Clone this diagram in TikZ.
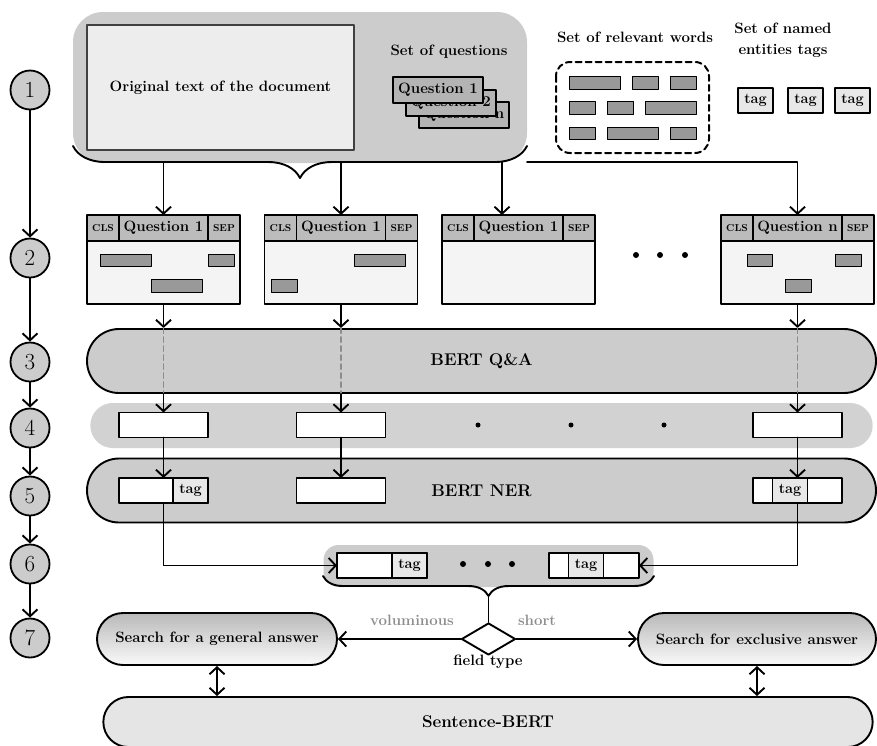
\documentclass[tikz,border=0pt]{standalone}
\usepackage{tikz}
\usetikzlibrary{arrows.meta,calc,positioning,decorations.pathreplacing,shapes.geometric,shapes.misc}
\definecolor{bandgray}{RGB}{204,204,204}
\definecolor{rowgray}{RGB}{210,210,210}
\definecolor{docgray}{RGB}{237,237,237}
\definecolor{docedge}{RGB}{64,64,64}
\definecolor{cardgray}{RGB}{180,180,180}
\definecolor{headgray}{RGB}{188,188,188}
\definecolor{bodygray}{RGB}{244,244,244}
\definecolor{bargray}{RGB}{153,153,153}
\definecolor{taggray}{RGB}{232,232,232}
\definecolor{sbertgray}{RGB}{229,229,229}
\definecolor{labelgray}{RGB}{140,140,140}
\definecolor{searchtop}{RGB}{185,185,185}
\definecolor{searchbot}{RGB}{250,250,250}
\newcommand{\fmain}{\fontsize{15}{21}\selectfont\bfseries}
\newcommand{\fbig}{\fontsize{17}{19}\selectfont\bfseries}
\newcommand{\fcell}{\fontsize{10}{11}\selectfont\bfseries}
\newcommand{\ftag}{\fontsize{14.5}{15}\selectfont\bfseries}

\begin{document}
\begin{tikzpicture}[x=1pt,y=-1pt,line cap=round,line join=round,
  >={Straight Barb[length=7pt,width=15pt]},
  arr/.style={->,line width=1.9pt},
  dblarr/.style={<->,line width=1.9pt},
  stepnum/.style={circle,draw,fill=bandgray,line width=1.8pt,minimum size=39pt,inner sep=0pt,font=\fontsize{23}{23}\selectfont},
  headcell/.style={draw,fill=headgray,line width=1.9pt,minimum height=26pt,inner sep=0pt,outer sep=0pt,font=\fmain},
  bodycell/.style={draw,fill=bodygray,line width=1.9pt,minimum width=153pt,minimum height=63pt,inner sep=0pt,outer sep=0pt,anchor=north west},
  qcard/.style={draw,fill=cardgray,line width=2pt,minimum width=90pt,minimum height=26pt,inner sep=0pt,font=\fmain},
  wordbar/.style={draw,fill=bargray,line width=1pt},
  tagbox/.style={draw,fill=taggray,line width=1.6pt,minimum width=35pt,minimum height=25pt,inner sep=0pt,outer sep=0pt,font=\ftag},
  ansbox/.style={draw,fill=white,line width=1.9pt,minimum width=89pt,minimum height=25pt,inner sep=0pt,outer sep=0pt},
  band/.style={rounded rectangle,draw,fill=bandgray,line width=1.9pt,minimum width=789pt,minimum height=64pt,inner sep=0pt,font=\fbig},
  searchbox/.style={rounded rectangle,draw,line width=1.9pt,top color=searchtop,bottom color=searchbot,minimum height=52pt,inner sep=0pt,font=\fmain},
  gapline/.style={labelgray,line width=1.9pt,dash pattern=on 5pt off 4pt}]
\useasboundingbox (0,0) rectangle (877,745);
\clip (0,0) rectangle (877,745);
% Kolumna z numerami kroków.
\node[stepnum] (s1) at (30,90) {1};
\node[stepnum] (s2) at (30,258) {2};
\node[stepnum] (s3) at (30,362) {3};
\node[stepnum] (s4) at (30,428) {4};
\node[stepnum] (s5) at (30,496) {5};
\node[stepnum] (s6) at (30,564) {6};
\node[stepnum] (s7) at (30,638) {7};
\draw[arr] (s1) -- (s2);
\draw[arr] (s2) -- (s3);
\draw[arr] (s3) -- (s4);
\draw[arr] (s4) -- (s5);
\draw[arr] (s5) -- (s6);
\draw[arr] (s6) -- (s7);
% Dane wejściowe: dokument, pytania, słowa i tagi.
\node[fill=bandgray,rounded corners=30pt,minimum width=454pt,minimum height=151pt] (inputs) at (300,87.5) {};
\node[draw=docedge,fill=docgray,line width=2pt,minimum width=267pt,minimum height=125pt,font=\fmain] (doc) at (220.5,87.5) {Original text of the document};
\node[font=\fmain] (setq) at (449,52) {Set of questions};
\node[qcard] (qn) at (464,115) {Question n};
\node[qcard] (q2) at (451,102.5) {Question 2};
\node[qcard] (q1) at (438,90) {Question 1};
\draw[decorate,decoration={brace,mirror,amplitude=32pt},line width=1.9pt] (73,146) -- (527,146);
\coordinate (fork) at (527,162);
\coordinate (b1) at (163.5,162);
\coordinate (b2) at (341,162);
\coordinate (b3) at (502,162);
\node[font=\fmain] (setw) at (635,37) {Set of relevant words};
\node[font=\fmain,align=center] (sett) at (783,40.5) {Set of named\\entities tags};
\draw[line width=2pt,dash pattern=on 6pt off 4pt,rounded corners=14pt] (556,62) rectangle (709,153);
\draw[wordbar] (569,76) rectangle (620,89);
\draw[wordbar] (632,76) rectangle (658,89);
\draw[wordbar] (670,76) rectangle (696,89);
\draw[wordbar] (569,101) rectangle (595,114);
\draw[wordbar] (607,101) rectangle (633,114);
\draw[wordbar] (645,101) rectangle (696,114);
\draw[wordbar] (569,127) rectangle (595,139);
\draw[wordbar] (607,127) rectangle (658,139);
\draw[wordbar] (670,127) rectangle (696,139);
\node[tagbox] (tag1) at (755.5,100.5) {tag};
\node[tagbox] (tag2) at (805.5,100.5) {tag};
\node[tagbox] (tag3) at (852.5,100.5) {tag};
% Pary pytanie + kontekst dla BERT Q&A.
\node[headcell,minimum width=32pt,anchor=north west] (in1cls) at (87,215) {\fcell CLS};
\node[headcell,minimum width=89pt,right=0pt of in1cls] (in1q) {Question 1};
\node[headcell,minimum width=32pt,right=0pt of in1q] (in1sep) {\fcell SEP};
\node[bodycell] (in1) at (in1cls.south west) {};
\node[headcell,minimum width=32pt,anchor=north west] (in2cls) at (264.5,215) {\fcell CLS};
\node[headcell,minimum width=89pt,right=0pt of in2cls] (in2q) {Question 1};
\node[headcell,minimum width=32pt,right=0pt of in2q] (in2sep) {\fcell SEP};
\node[bodycell] (in2) at (in2cls.south west) {};
\node[headcell,minimum width=32pt,anchor=north west] (in3cls) at (442,215) {\fcell CLS};
\node[headcell,minimum width=89pt,right=0pt of in3cls] (in3q) {Question 1};
\node[headcell,minimum width=32pt,right=0pt of in3q] (in3sep) {\fcell SEP};
\node[bodycell] (in3) at (in3cls.south west) {};
\node[headcell,minimum width=32pt,anchor=north west] (in4cls) at (721,215) {\fcell CLS};
\node[headcell,minimum width=89pt,right=0pt of in4cls] (in4q) {Question n};
\node[headcell,minimum width=32pt,right=0pt of in4q] (in4sep) {\fcell SEP};
\node[bodycell] (in4) at (in4cls.south west) {};
\draw[wordbar] (100,254) rectangle (151,266);
\draw[wordbar] (208,254) rectangle (234,266);
\draw[wordbar] (151,279) rectangle (202,292);
\draw[wordbar] (354,254) rectangle (405,266);
\draw[wordbar] (271,279) rectangle (297,292);
\draw[wordbar] (747,254) rectangle (772,266);
\draw[wordbar] (835,254) rectangle (861,266);
\draw[wordbar] (785,279) rectangle (811,292);
\fill (636,255) circle (3pt) (660,255) circle (3pt) (685,255) circle (3pt);
\draw[arr] (b1) -- (in1q.north);
\draw[arr] (b2) -- (in2q.north);
\draw[arr] (b3) -- (b3 |- in3q.north);
\draw[arr] (fork) -| (in4q.north);
% Pasy modeli i odpowiedzi.
\node[band] (qa) at (481.5,361) {BERT Q\&A};
\node[rounded rectangle,fill=rowgray,minimum width=789pt,minimum height=45pt] (rowband) at (481.5,425.5) {};
\node[band] (ner) at (481.5,490.5) {BERT NER};
\node[ansbox] (ans1) at (163.5,425) {};
\node[ansbox] (ans2) at (341,425) {};
\node[ansbox] (ans4) at (797.5,425) {};
\fill (478,425) circle (2.5pt) (571,425) circle (2.5pt) (664,425) circle (2.5pt);
\node[ansbox] (ner1) at (163.5,490.5) {};
\node[tagbox,anchor=east] (ner1tag) at (ner1.east) {tag};
\node[ansbox] (ner2) at (341,490.5) {};
\node[ansbox] (ner4) at (797.5,490.5) {};
\node[tagbox] (ner4tag) at (790,490.5) {tag};
\foreach \i in {1,2,4}{
  \draw[arr] (in\i.south) -- (in\i.south |- qa.north);
  \draw[gapline] (in\i.south |- qa.north) -- (in\i.south |- qa.south);
  \draw[arr] (in\i.south |- qa.south) -- (ans\i.north);
  \draw[arr] (ans\i.south) -- (ner\i.north);
}
% Zebrane wyniki i wybór sposobu wyszukiwania.
\node[fill=bandgray,rounded corners=15pt,minimum width=330pt,minimum height=42pt] (resband) at (488.5,566) {};
\node[ansbox,minimum width=90pt] (res1) at (382,565.5) {};
\node[tagbox,anchor=east] (res1tag) at (res1.east) {tag};
\node[ansbox,minimum width=90pt] (resn) at (594,565.5) {};
\node[tagbox] (resntag) at (586,565.5) {tag};
\fill (463,564) circle (3pt) (488,564) circle (3pt) (512,564) circle (3pt);
\draw[arr] (ner1.south) |- (res1.west);
\draw[arr] (ner4.south) |- (resn.east);
\draw[decorate,decoration={brace,mirror,amplitude=20pt},line width=1.9pt] (323,576) -- (654,576);
\coordinate (bracetip) at (488.5,596);
\node[diamond,draw,fill=white,line width=1.9pt,minimum width=54pt,minimum height=32pt,aspect=1.7,inner sep=0pt] (ft) at (488.5,639) {};
\node[font=\fmain] (ftlabel) at (488,662) {field type};
\draw[line width=1.9pt] (bracetip) -- (ft.north);
\node[searchbox,minimum width=240pt] (gen) at (217,639) {Search for a general answer};
\node[searchbox,minimum width=238pt] (excl) at (757,639) {Search for exclusive answer};
\draw[arr] (ft.west) -- (gen.east);
\draw[arr] (ft.east) -- (excl.west);
\node[font=\fmain,labelgray] (vol) at (412,620) {voluminous};
\node[font=\fmain,labelgray] (short) at (537,620) {short};
\node[rounded rectangle,draw,fill=sbertgray,line width=1.9pt,minimum width=776pt,minimum height=50pt,font=\fbig] (sbert) at (488,722) {Sentence-BERT};
\draw[dblarr] (gen.south) -- (gen.south |- sbert.north);
\draw[dblarr] (excl.south) -- (excl.south |- sbert.north);
\end{tikzpicture}
\end{document}
